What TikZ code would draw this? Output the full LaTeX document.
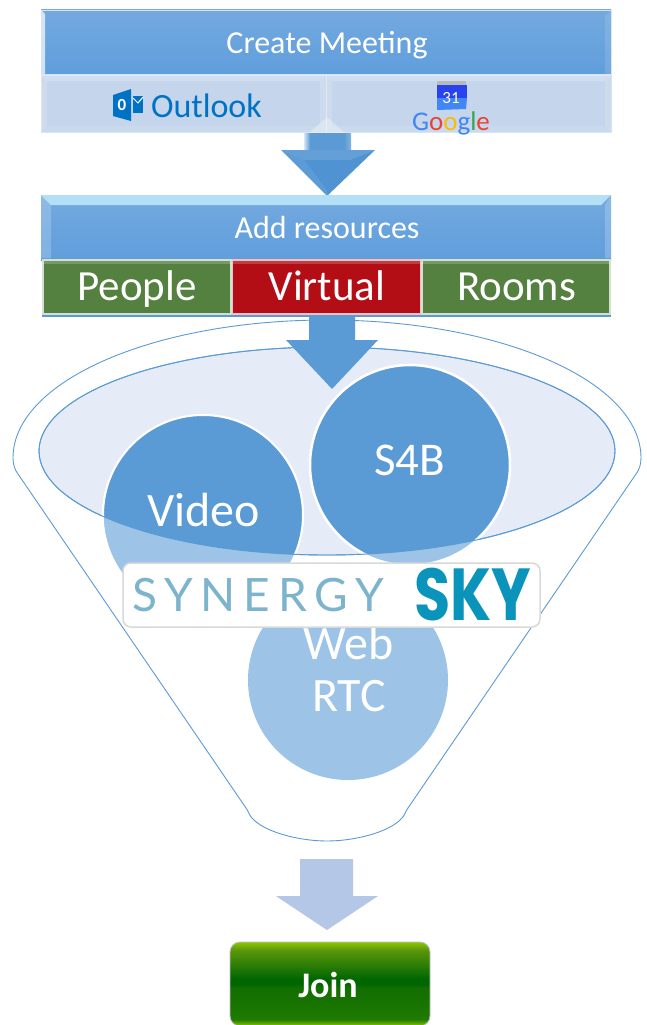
\documentclass[tikz,border=0pt]{standalone}
\usepackage{graphicx}
\usepackage{fontspec}
\setmainfont{Carlito}
\newfontfamily\synfont[LetterSpace=17]{Lato}
\newfontfamily\skyfont{Poppins}
\definecolor{blueA}{HTML}{5B9BD5}
\definecolor{blueB}{HTML}{9DC3E6}
\definecolor{barlow}{HTML}{5F9EDC}
\definecolor{bartop}{HTML}{74A9DF}
\definecolor{paleE}{HTML}{E6ECF7}
\definecolor{paleA}{HTML}{B4C7E7}
\definecolor{rowblue}{HTML}{C5D5EB}
\definecolor{rowlight}{HTML}{D6E3F3}
\definecolor{greenbox}{HTML}{548040}
\definecolor{redbox}{HTML}{B30D15}
\definecolor{gblue}{HTML}{4285F4}
\definecolor{gred}{HTML}{EA4335}
\definecolor{gyellow}{HTML}{FBBC05}
\definecolor{ggreen}{HTML}{34A853}
\definecolor{outlookblue}{HTML}{0072C6}
\definecolor{skyteal}{HTML}{0A93BB}
\definecolor{syngrey}{HTML}{7DB4CD}
\definecolor{jointop}{HTML}{8CC800}
\definecolor{joinlow}{HTML}{1F7A00}
\definecolor{joinmid}{HTML}{116E00}
\definecolor{joindark}{HTML}{006600}
\definecolor{joinup}{HTML}{5A960C}
\definecolor{arrowhead}{HTML}{4F93D2}
\pgfdeclareverticalshading{joinshadeB}{100bp}{
 color(0bp)=(jointop);
 color(25bp)=(jointop);
 color(29bp)=(joinlow);
 color(48bp)=(joinmid);
 color(50bp)=(joindark);
 color(53bp)=(joindark);
 color(70bp)=(joinup);
 color(75bp)=(jointop);
 color(100bp)=(jointop)}
\tikzset{
 x=1pt,y=-1pt,
 barbox/.style={rectangle,inner sep=0pt,outer sep=0pt,minimum width=570pt,minimum height=65pt,
   top color=bartop,bottom color=barlow},
 rowbox/.style={rectangle,inner sep=0pt,outer sep=0pt,fill=rowblue,draw=rowlight,line width=1pt,
   minimum width=285pt,minimum height=57pt},
 resbox/.style={rectangle,inner sep=0pt,outer sep=0pt,fill=#1,draw=white!75!#1,line width=1.2pt,
   minimum width=188pt,minimum height=54pt},
 reslabel/.style={text=white,inner sep=0pt,anchor=base,font=\fontsize{43}{45}\selectfont},
 barlabel/.style={text=white,inner sep=0pt,anchor=base,font=\fontsize{32}{34}\selectfont},
 disc/.style={circle,inner sep=0pt,outer sep=0pt,minimum size=200pt,fill=#1},
 disclabel/.style={text=white,inner sep=0pt,anchor=base,font=\fontsize{#1}{#1}\selectfont},
 funnelline/.style={draw=blueA,line width=0.9pt},
 txt/.style={inner sep=0pt,outer sep=0pt}
}
\begin{document}
\begin{tikzpicture}
\useasboundingbox (0,0) rectangle (647,1025);
\fill[white] (0,0) rectangle (647,1025);
% funnel
\draw[funnelline] (13,458) .. controls (13,381) and (154,320) .. (327,320)
  .. controls (500,320) and (641,381) .. (641,458)
  .. controls (641,465) and (639,470) .. (636,474)
  -- (408,808) .. controls (405,812) and (405,815) .. (402,818)
  .. controls (390,832) and (355,841) .. (327,841)
  .. controls (299,841) and (264,832) .. (252,818)
  .. controls (249,815) and (249,812) .. (246,808)
  -- (18,474) .. controls (15,470) and (13,465) .. (13,458) -- cycle;
% inner ellipse
\path[fill=paleE,draw=blueA,line width=0.9pt] (327,451) ellipse [x radius=288,y radius=104];
% circles, light part
\node[disc=blueB] (web) at (348,680) {};
\node[disc=blueB,draw=white,line width=1.5pt] (video) at (203,515) {};
\node[disc=blueB,draw=white,line width=1.5pt] (s4b) at (410,465) {};
\begin{scope}
 \clip (327,451) ellipse [x radius=288,y radius=104];
 \node[disc=blueA,draw=white,line width=2pt] (videod) at (203,515) {};
 \node[disc=blueA,draw=white,line width=2.5pt] (s4bd) at (410,465) {};
\end{scope}
\draw[blueA,line width=0.9pt] (327,451) ellipse [x radius=288,y radius=104];
\node[disclabel=48] (videol) at (203.5,526) {Video};
\node[disclabel=47] (s4bl) at (409.5,475) {S4B};
\node[disclabel=48] (webl) at (348.5,659) {Web};
\node[disclabel=48] (rtcl) at (349,711) {RTC};
% top bar
\node[barbox] (create) at (326,42) {};
\fill[white,opacity=.7] (41,10) -- (45,14) -- (45,74) -- (41,74) -- cycle;
\fill[white,opacity=.12] (611,10) -- (605,16) -- (605,74) -- (611,74) -- cycle;
\draw[rowlight,line width=.6pt] (41,10) rectangle (611,74);
\node[barlabel] (createl) at (327,53) {Create Meeting};
% row
\node[rowbox] (outl) at (183.5,104) {};
\node[rowbox] (goog) at (468.5,104) {};
\foreach \a/\b in {41/326,326/611}{
 \fill[white,opacity=.22] (\a,75) -- (\a+6,81) -- (\b-6,81) -- (\b,75) -- cycle;
 \fill[white,opacity=.1] (\a,133) -- (\a+6,126) -- (\b-6,126) -- (\b,133) -- cycle;
 \fill[white,opacity=.15] (\a,75) -- (\a+6,81) -- (\a+6,126) -- (\a,133) -- cycle;
 \fill[white,opacity=.15] (\b,75) -- (\b-6,81) -- (\b-6,126) -- (\b,133) -- cycle;
}
% outlook logo
\fill[outlookblue] (113,95) -- (131,89) -- (131,121) -- (113,116) -- cycle;
\fill[outlookblue] (133,96) rectangle (143,113);
\draw[white,line width=1pt] (133,98) -- (138,103) -- (143,97);
\node[txt,text=white,font=\fontsize{17}{17}\selectfont\bfseries] (oicon) at (122,105) {0};
\node[txt,text=outlookblue,font=\fontsize{34}{34}\selectfont,anchor=base west] (outt) at (151,117) {Outlook};
% google logo
\fill[gray!55,rounded corners=1pt] (437,81) rectangle (466,88);
\fill[blue!55!gblue!90!gray] (437,85) rectangle (467,98);
\fill[gblue] (437,98) -- (467,98) -- (466,109) -- (437,110) -- cycle;
\node[txt,text=white,font=\fontsize{17}{17}\selectfont] (cal) at (451,98) {31};
\node[txt,anchor=base,font=\fontsize{27}{27}\selectfont] (gt) at (451,130) {\textcolor{gblue}{G}\textcolor{gred}{o}\textcolor{gyellow}{o}\textcolor{gblue}{g}\textcolor{ggreen}{l}\textcolor{gred}{e}};
% arrow 1
\fill[white,opacity=.3] (327,117) -- (309,133) -- (345,133) -- cycle;
\fill[blueA] (304,133) rectangle (351,152);
\shade[left color=white!75!blueA,right color=blueA] (304,133) rectangle (310,152);
\shade[left color=blueA,right color=white!25!blueA] (344,133) rectangle (351,152);
\fill[arrowhead] (281,150) -- (375,150) -- (327,196) -- cycle;
\fill[white,opacity=.12] (281,150) -- (375,150) -- (350,160) -- (304,160) -- cycle;
\fill[white,opacity=.08] (281,150) -- (304,160) -- (327,190) -- (327,196) -- cycle;
% second bar
\node[barbox] (add) at (326,227.5) {};
\fill[cyan!25!white,opacity=.85] (41,195) -- (51,205) -- (601,205) -- (611,195) -- cycle;
\fill[white,opacity=.2] (41,195) -- (51,205) -- (51,258) -- (41,258) -- cycle;
\fill[white,opacity=.2] (611,195) -- (605,205) -- (605,258) -- (611,258) -- cycle;
\node[barlabel] (addl) at (327,238) {Add resources};
% resources
\node[resbox=greenbox] (people) at (137,287) {};
\node[resbox=redbox] (virtual) at (326.5,287) {};
\node[resbox=greenbox] (rooms) at (516,287) {};
\foreach \a/\b in {43/231,233/420,422/610}{
 \fill[white,opacity=.2] (\a,261) rectangle (\b,264);
}
\node[reslabel] (peoplel) at (137,300) {People};
\node[reslabel] (virtuall) at (327,300) {Virtual};
\node[reslabel] (roomsl) at (516.5,300) {Rooms};
\draw[blueA,line width=1.5pt] (42,316) -- (611,316);
% arrow 2
\fill[blueA] (309,317) -- (355,317) -- (355,340) -- (378,340) -- (332,389) -- (286,340) -- (309,340) -- cycle;
% synergy logo
\node[rectangle,rounded corners=8pt,minimum width=417pt,minimum height=64pt,fill=white,draw=black!15,line width=1.5pt,inner sep=0pt] (logo) at (331.5,595) {};
\node[txt,anchor=west,text=syngrey,font=\synfont\fontsize{46}{46}\selectfont] (syn) at (132,595) {SYNERGY};
\node[txt,anchor=east,text=skyteal] (sky) at (531,595) {\scalebox{0.92}[1.15]{\skyfont\bfseries\fontsize{64}{64}\selectfont SKY}};
% arrow 3
\fill[paleA] (300,859) -- (353,859) -- (353,896) -- (378,896) -- (327,930) -- (276,896) -- (300,896) -- cycle;
% join
\node[rectangle,rounded corners=10pt,minimum width=200pt,minimum height=84pt,inner sep=0pt,shading=joinshadeB,draw=black!25,line width=.8pt] (joinb) at (330,984) {};
\node[txt,text=white,font=\fontsize{36}{36}\selectfont\bfseries] (joinl) at (328,985) {Join};
\end{tikzpicture}
\end{document}
